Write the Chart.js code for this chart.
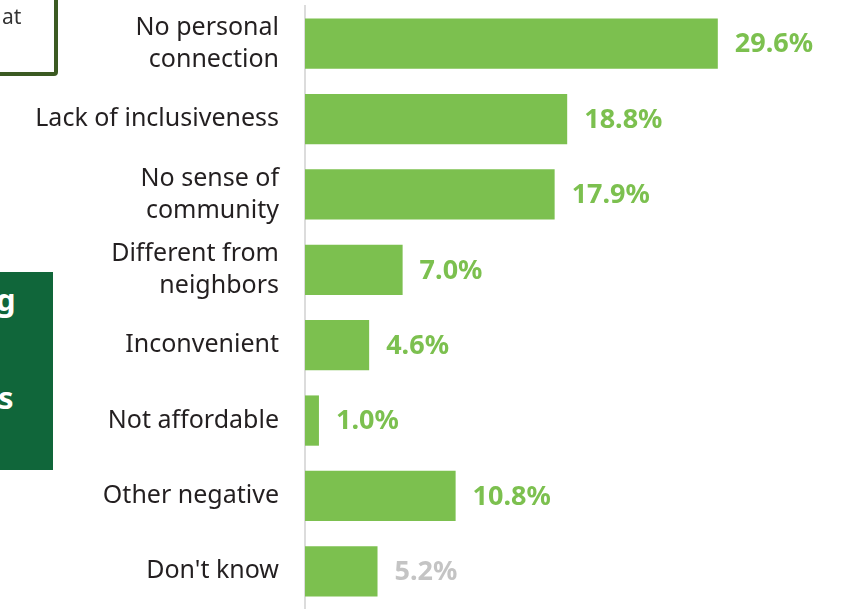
<!DOCTYPE html>
<html>
<head>
<meta charset="utf-8">
<script src="https://cdn.jsdelivr.net/npm/chart.js@4.4.0/dist/chart.umd.min.js"></script>
<style>
  html, body { margin: 0; padding: 0; background: #fff; }
  #wrap { position: relative; width: 851px; height: 609px; overflow: hidden; font-family: "Noto Sans", sans-serif; }
  #chart { position: absolute; left: 0; top: 0; }
  .note { position: absolute; left: -20px; top: -10px; width: 78px; height: 86px; border: 4px solid #3b5a22; border-radius: 4px; box-sizing: border-box; }
  .note span { position: absolute; left: 18px; top: 8px; font-size: 21px; color: #333; }
  .panel { position: absolute; left: 0; top: 272px; width: 53px; height: 198px; background: #10663a; color: #fff; font-weight: bold; font-size: 31px; }
  .panel span { position: absolute; }
</style>
</head>
<body>
<div id="wrap">
  <canvas id="chart" width="851" height="609"></canvas>
  <div class="note"><span>at</span></div>
  <div class="panel"><span style="left:-4px;top:6px">g</span><span style="left:-2px;top:104px">s</span></div>
</div>
<script>
const categories = [
  ["No personal", "connection"],
  "Lack of inclusiveness",
  ["No sense of", "community"],
  ["Different from", "neighbors"],
  "Inconvenient",
  "Not affordable",
  "Other negative",
  "Don't know"
];
const values = [29.6, 18.8, 17.9, 7.0, 4.6, 1.0, 10.8, 5.2];
const valueLabels = ["29.6%", "18.8%", "17.9%", "7.0%", "4.6%", "1.0%", "10.8%", "5.2%"];
const labelColors = ["#7cc04f", "#7cc04f", "#7cc04f", "#7cc04f", "#7cc04f", "#7cc04f", "#7cc04f", "#c4c4c4"];

const valueLabelPlugin = {
  id: "valueLabels",
  afterDatasetsDraw(chart) {
    const ctx = chart.ctx;
    const meta = chart.getDatasetMeta(0);
    ctx.save();
    ctx.font = "bold 27px 'Noto Sans', sans-serif";
    ctx.textBaseline = "middle";
    ctx.textAlign = "left";
    meta.data.forEach((bar, i) => {
      ctx.fillStyle = labelColors[i];
      ctx.fillText(valueLabels[i], bar.x + 17, bar.y + 1);
    });
    ctx.restore();
  }
};

new Chart(document.getElementById("chart"), {
  type: "bar",
  data: {
    labels: categories,
    datasets: [{
      data: values,
      backgroundColor: "#7cc04f",
      barPercentage: 0.667,
      categoryPercentage: 1
    }]
  },
  options: {
    indexAxis: "y",
    responsive: false,
    animation: false,
    layout: { padding: { top: 6, right: 0, bottom: 0, left: 0 } },
    plugins: { legend: { display: false }, tooltip: { enabled: false } },
    scales: {
      x: { display: false, min: 0, max: 39.15 },
      y: {
        afterFit(scale) {
          scale.width = 305;
          scale.paddingTop = 0;
          scale.paddingBottom = 0;
        },
        grid: { display: false, drawTicks: false },
        border: { display: true, color: "#dcdcdc", width: 2 },
        ticks: {
          padding: 26,
          color: "#231f20",
          font: { family: "'Noto Sans', sans-serif", size: 25, lineHeight: 1.28 }
        }
      }
    }
  },
  plugins: [valueLabelPlugin]
});
</script>
</body>
</html>
